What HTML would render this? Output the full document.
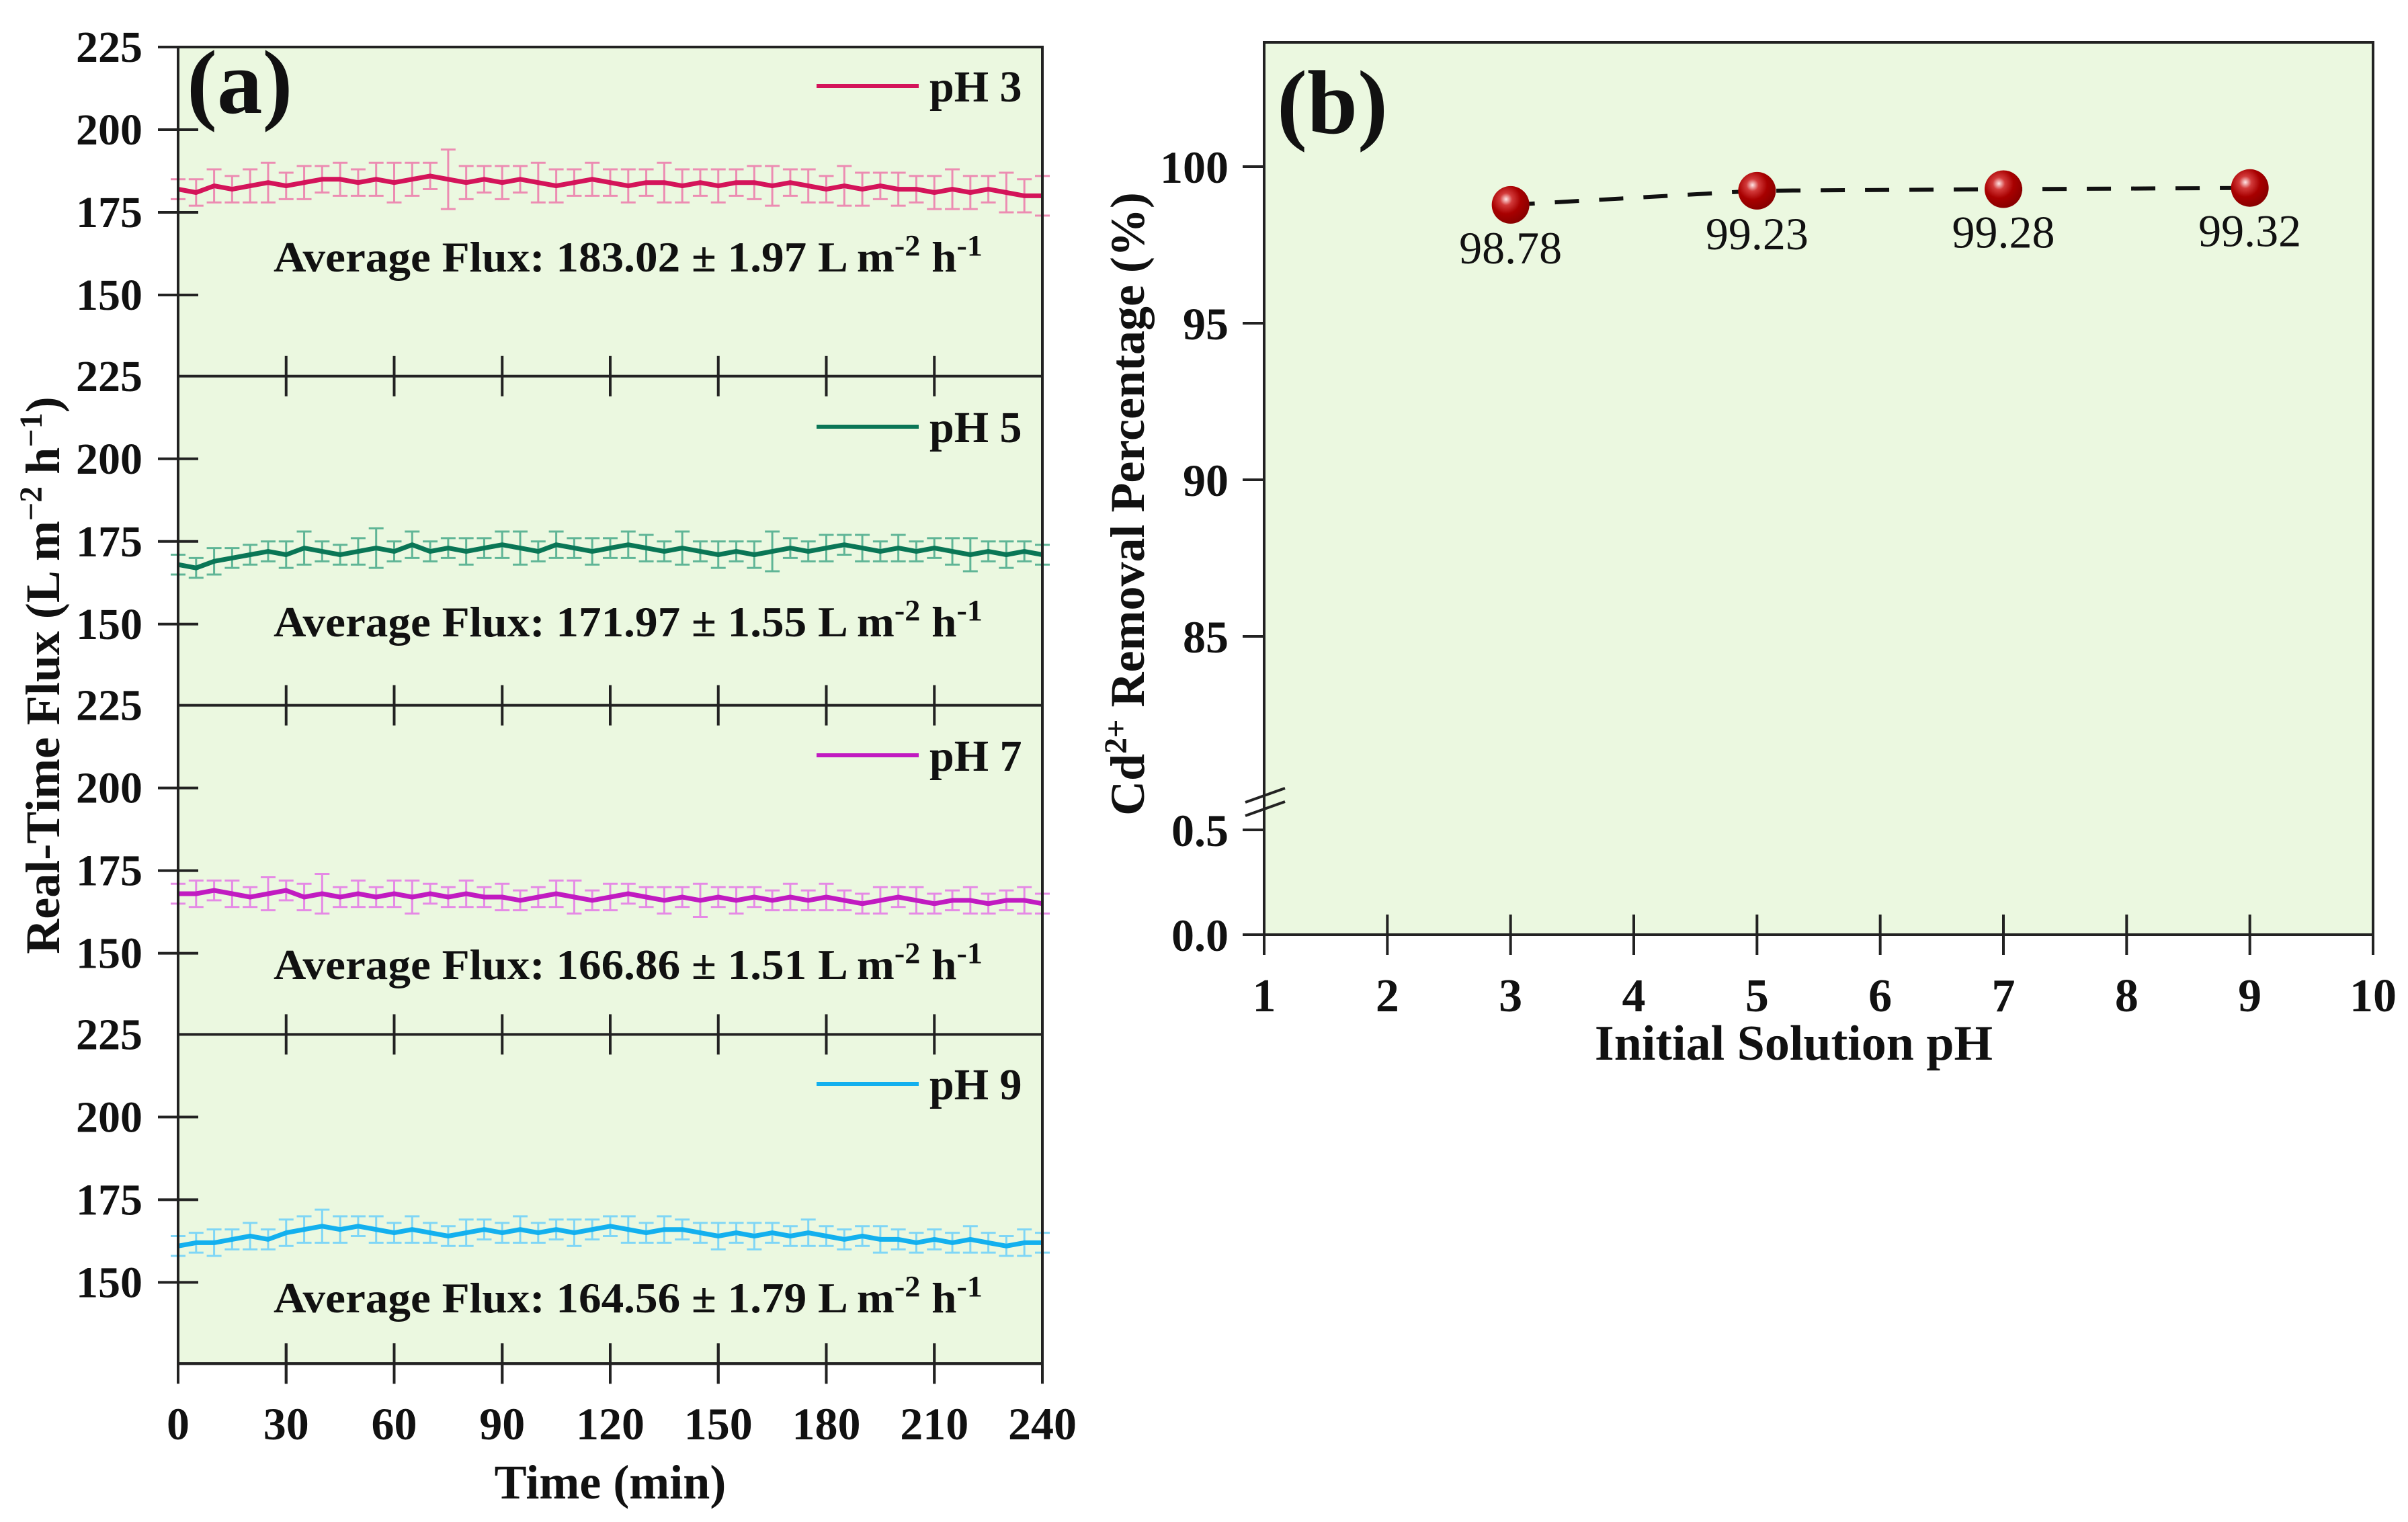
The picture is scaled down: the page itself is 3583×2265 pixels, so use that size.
<!DOCTYPE html>
<html><head><meta charset="utf-8"><style>
html,body{margin:0;padding:0;background:#fff;}
svg{display:block;font-family:"Liberation Serif",serif;}
</style></head><body>
<svg id="fig" width="3583" height="2265" viewBox="0 0 3583 2265" xmlns="http://www.w3.org/2000/svg"></svg>
<script>
// ---------- Panel (a) data ----------
const timeStep = 5; // minutes between points
const fluxPH3 = [182,181,183,182,183,184,183,184,185,185,184,185,184,185,186,185,184,185,184,185,184,183,184,185,184,183,184,184,183,184,183,184,184,183,184,183,182,183,182,183,182,182,181,182,181,182,181,180,180];
const errPH3 = [3,4,5,4,5,6,4,5,4,5,4,5,6,5,4,9,5,4,5,4,6,5,4,5,4,5,4,6,5,4,5,4,5,6,4,5,4,6,5,4,5,4,5,6,5,4,6,5,6];
const fluxPH5 = [168,167,169,170,171,172,171,173,172,171,172,173,172,174,172,173,172,173,174,173,172,174,173,172,173,174,173,172,173,172,171,172,171,172,173,172,173,174,173,172,173,172,173,172,171,172,171,172,171];
const errPH5 = [3,3,4,3,3,3,4,5,3,3,4,6,3,4,3,3,4,3,4,5,3,4,3,4,3,4,4,3,5,3,4,3,4,6,3,3,4,3,4,3,4,3,3,4,5,3,4,3,3];
const fluxPH7 = [168,168,169,168,167,168,169,167,168,167,168,167,168,167,168,167,168,167,167,166,167,168,167,166,167,168,167,166,167,166,167,166,167,166,167,166,167,166,165,166,167,166,165,166,166,165,166,166,165];
const errPH7 = [3,4,3,4,3,5,3,4,6,3,4,3,4,5,3,3,4,3,4,3,3,4,5,3,4,3,3,4,3,5,3,4,3,3,4,3,4,3,3,4,3,4,3,3,4,3,3,4,3];
const fluxPH9 = [161,162,162,163,164,163,165,166,167,166,167,166,165,166,165,164,165,166,165,166,165,166,165,166,167,166,165,166,166,165,164,165,164,165,164,165,164,163,164,163,163,162,163,162,163,162,161,162,162];
const errPH9 = [3,3,4,3,4,3,4,4,5,4,3,4,3,4,3,3,4,3,3,4,3,3,4,3,3,4,3,4,3,3,4,3,4,3,3,4,3,3,3,4,3,3,3,3,4,3,3,4,3];
const panelLabels = ["pH 3","pH 5","pH 7","pH 9"];
const avgTexts = ["183.02 ± 1.97","171.97 ± 1.55","166.86 ± 1.51","164.56 ± 1.79"];
const timeTicks = [0,30,60,90,120,150,180,210,240];
const fluxTicks = [150,175,200,225];
// ---------- Panel (b) data ----------
const phValues = [3,5,7,9];
const removal = [98.78,99.23,99.28,99.32];
const removalLabels = ["98.78","99.23","99.28","99.32"];
const phTicks = [1,2,3,4,5,6,7,8,9,10];
const upperTicks = [85,90,95,100];
const lowerTicks = ["0.0","0.5"];

const NS="http://www.w3.org/2000/svg";
const svg=document.getElementById('fig');
function mk(tag,attrs,parent,text){const e=document.createElementNS(NS,tag);for(const k in attrs)e.setAttribute(k,attrs[k]);if(text!==undefined)e.textContent=text;(parent||svg).appendChild(e);return e;}

// ---------- Panel (a) ----------
const AX0=265, AX1=1551, AT=70, PH=489.8;
const xA=t=>AX0+(t/240)*(AX1-AX0);
const series=[
 {v:fluxPH3,e:errPH3,c:"#d4145a",ec:"#ec8cb2"},
 {v:fluxPH5,e:errPH5,c:"#0a7656",ec:"#5fb596"},
 {v:fluxPH7,e:errPH7,c:"#c11bc1",ec:"#e58ae5"},
 {v:fluxPH9,e:errPH9,c:"#13b0ee",ec:"#7fd6f6"}];
const legendY=[128,635,1124,1613];
const avgY=[382,925,1435,1931];
const gA=mk('g',{});


const bgA=mk('rect',{x:AX0,y:AT,width:AX1-AX0,height:4*PH,fill:"#ebf8e0"},gA);


series.forEach((s,i)=>{
  const top=AT+i*PH;
  const yA=v=>top+(225-v)/25*123;
  const g=mk('g',{},gA);
  
  
  s.v.forEach((v,k)=>{
    const x=xA(k*timeStep), y1=yA(v-s.e[k]), y2=yA(v+s.e[k]);
    const eb=mk('path',{d:`M${x} ${y1}V${y2}M${x-11} ${y1}H${x+11}M${x-11} ${y2}H${x+11}`,stroke:s.ec,'stroke-width':3,fill:'none'},g);
    
    
  });
  const pts=s.v.map((v,k)=>`${xA(k*timeStep).toFixed(1)},${yA(v).toFixed(1)}`).join(' ');
  const ln=mk('polyline',{points:pts,fill:'none',stroke:s.c,'stroke-width':7,'stroke-linejoin':'round'},g);
  
  
  fluxTicks.forEach(t=>{
    const y=yA(t);
    if(t!==225) { const tk=mk('line',{x1:AX0-30,x2:AX0+30,y1:y,y2:y,stroke:'#222','stroke-width':4},g);
        }
    const lb=mk('text',{x:212,y:y+22,'text-anchor':'end','font-size':66,'font-weight':'bold',fill:'#111'},g,String(t));
    
    
  });
  const yb=top+PH;
  timeTicks.forEach(t=>{
    if(t===0||t===240) return;
    const tk=mk('line',{x1:xA(t),x2:xA(t),y1:yb-30,y2:yb+30,stroke:'#222','stroke-width':4},g);
    
    
  });
  const sep=mk('line',{x1:AX0,x2:AX1,y1:yb,y2:yb,stroke:'#222','stroke-width':4},g);
  
  
  const lg=mk('line',{x1:1215,x2:1367,y1:legendY[i],y2:legendY[i],stroke:s.c,'stroke-width':6},g);
  
  
  const lt=mk('text',{x:1383,y:legendY[i]+23,'font-size':66,'font-weight':'bold',fill:'#111'},g,panelLabels[i]);
  
  
  const at=mk('text',{x:407,y:avgY[i]+22,'font-size':64,'font-weight':'bold',fill:'#111',textLength:1055,lengthAdjust:'spacingAndGlyphs'},g);
  
  
  mk('tspan',{},at,'Average Flux: '+avgTexts[i]+' L m');
  mk('tspan',{dy:-24,'font-size':44},at,'-2');
  mk('tspan',{dy:24},at,' h');
  mk('tspan',{dy:-24,'font-size':44},at,'-1');
});
const frA=mk('rect',{x:AX0,y:AT,width:AX1-AX0,height:4*PH,fill:'none',stroke:'#222','stroke-width':4},gA);


const yAxisTick225=mk('line',{x1:AX0-30,x2:AX0,y1:AT,y2:AT,stroke:'#222','stroke-width':4},gA);


const yBot=AT+4*PH;
timeTicks.forEach(t=>{
  const tk=mk('line',{x1:xA(t),x2:xA(t),y1:yBot-30,y2:yBot+30,stroke:'#222','stroke-width':4},gA);
  
  
  const lb=mk('text',{x:xA(t),y:2142,'text-anchor':'middle','font-size':68,'font-weight':'bold',fill:'#111'},gA,String(t));
  
  
});
const xt=mk('text',{x:908,y:2230,'text-anchor':'middle','font-size':72,'font-weight':'bold',fill:'#111'},gA,'Time (min)');


const yt=mk('text',{x:0,y:0,'text-anchor':'middle','font-size':72,'font-weight':'bold',fill:'#111',transform:'translate(88,1005) rotate(-90)'},gA);


mk('tspan',{},yt,'Real-Time Flux (L m');
mk('tspan',{dy:-26,'font-size':48},yt,'−2');
mk('tspan',{dy:26},yt,' h');
mk('tspan',{dy:-26,'font-size':48},yt,'−1');
mk('tspan',{dy:26},yt,')');
const la=mk('text',{x:278,y:168,'font-size':135,'font-weight':'bold',fill:'#111'},gA,'(a)');



// ---------- Panel (b) ----------
const BX0=1881,BX1=3531,BT=63,BB=1391;
const xB=p=>BX0+(p-1)/9*(BX1-BX0);
const yB=v=> v>=50 ? 248+(100-v)*46.6 : 1391-v*312;
const gB=mk('g',{});


const bgB=mk('rect',{x:BX0,y:BT,width:BX1-BX0,height:BB-BT,fill:'#ebf8e0',stroke:'#222','stroke-width':4},gB);


phTicks.forEach(p=>{
  const tk=mk('line',{x1:xB(p),x2:xB(p),y1:BB-30,y2:BB+30,stroke:'#222','stroke-width':4},gB);
  
  
  const lb=mk('text',{x:xB(p),y:1505,'text-anchor':'middle','font-size':70,'font-weight':'bold',fill:'#111'},gB,String(p));
  
  
});
upperTicks.forEach(t=>{
  const y=yB(t);
  const tk=mk('line',{x1:BX0-32,x2:BX0,y1:y,y2:y,stroke:'#222','stroke-width':4},gB);
  
  
  const lb=mk('text',{x:1828,y:y+24,'text-anchor':'end','font-size':68,'font-weight':'bold',fill:'#111'},gB,String(t));
  
  
});
lowerTicks.forEach(t=>{
  const y=yB(parseFloat(t));
  const tk=mk('line',{x1:BX0-32,x2:BX0,y1:y,y2:y,stroke:'#222','stroke-width':4},gB);
  
  
  const lb=mk('text',{x:1828,y:y+24,'text-anchor':'end','font-size':68,'font-weight':'bold',fill:'#111'},gB,t);
  
  
});
const brk=mk('path',{d:'M1853 1194L1912 1173M1853 1214L1912 1193',stroke:'#222','stroke-width':4,fill:'none'},gB);


const defs=mk('defs',{},svg);
const rg=mk('radialGradient',{id:'ball',cx:'0.38',cy:'0.35',r:'0.65'},defs);
mk('stop',{offset:'0','stop-color':'#ffe6e6'},rg);
mk('stop',{offset:'0.25','stop-color':'#d23a3a'},rg);
mk('stop',{offset:'0.6','stop-color':'#a80000'},rg);
mk('stop',{offset:'1','stop-color':'#8a0000'},rg);
const dl=mk('polyline',{points:phValues.map((p,i)=>`${xB(p)},${yB(removal[i])}`).join(' '),fill:'none',stroke:'#111','stroke-width':6,'stroke-dasharray':'36 30'},gB);


phValues.forEach((p,i)=>{
  const c=mk('circle',{cx:xB(p),cy:yB(removal[i]),r:28,fill:'url(#ball)'},gB);
  
  
  const lb=mk('text',{x:xB(p),y:yB(removal[i])+87,'text-anchor':'middle','font-size':68,fill:'#111'},gB,removalLabels[i]);
  
  
});
const xbt=mk('text',{x:2669,y:1577,'text-anchor':'middle','font-size':74,'font-weight':'bold',fill:'#111'},gB,'Initial Solution pH');


const ybt=mk('text',{x:0,y:0,'text-anchor':'middle','font-size':72,'font-weight':'bold',fill:'#111',transform:'translate(1702,750) rotate(-90)'},gB);


mk('tspan',{},ybt,'Cd');
mk('tspan',{dy:-26,'font-size':48},ybt,'2+');
mk('tspan',{dy:26},ybt,' Removal Percentage (%)');
const lbB=mk('text',{x:1900,y:198,'font-size':135,'font-weight':'bold',fill:'#111'},gB,'(b)');


</script>
</body></html>
